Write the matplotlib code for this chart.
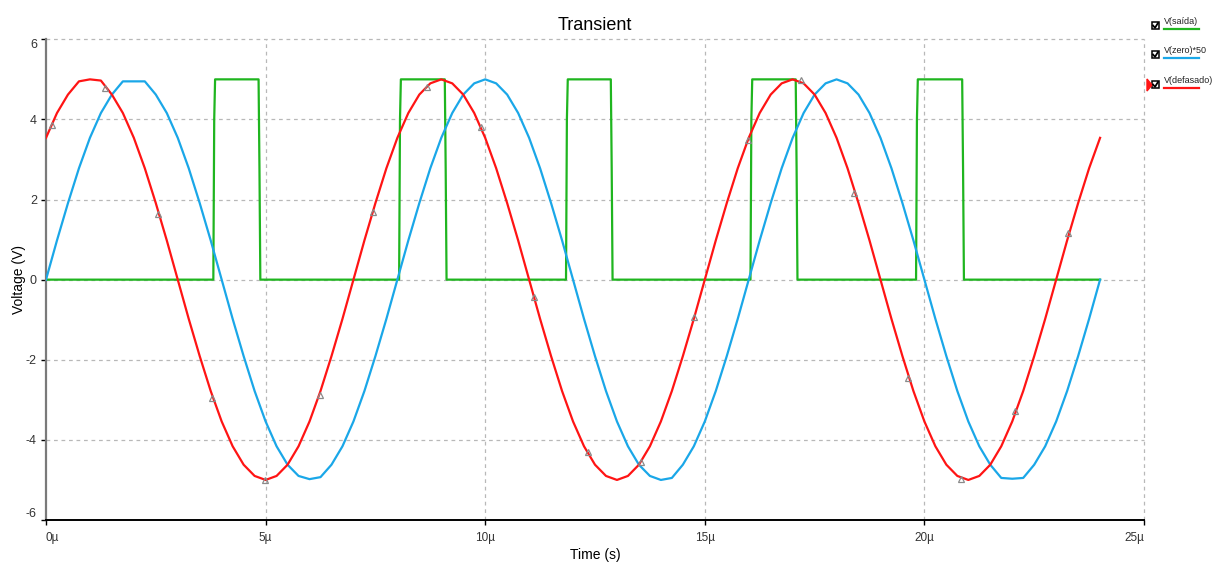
import numpy as np
import matplotlib
matplotlib.use("Agg")
import matplotlib.pyplot as plt
from matplotlib.lines import Line2D
from matplotlib.patches import Rectangle, Polygon

# ---------------- data (time in microseconds, values in volts) ----------------
time_us = np.arange(0, 24.001, 0.25)

v_zero_x50 = [
    0.00, 0.98, 1.91, 2.78, 3.54, 4.16, 4.62, 4.95, 4.95, 4.95, 4.62, 4.16, 3.54, 2.78, 1.91, 0.98,
    0.00, -0.98, -1.91, -2.78, -3.54, -4.16, -4.62, -4.90, -4.98, -4.93, -4.62, -4.16, -3.54, -2.78, -1.91, -0.98,
    0.00, 0.98, 1.91, 2.78, 3.54, 4.16, 4.62, 4.90, 5.00, 4.90, 4.62, 4.16, 3.54, 2.78, 1.91, 0.98,
    0.00, -0.98, -1.91, -2.78, -3.54, -4.16, -4.62, -4.90, -5.00, -4.95, -4.62, -4.16, -3.54, -2.78, -1.91, -0.98,
    0.00, 0.98, 1.91, 2.78, 3.54, 4.16, 4.62, 4.90, 5.00, 4.90, 4.62, 4.16, 3.54, 2.78, 1.91, 0.98,
    0.00, -0.98, -1.91, -2.78, -3.54, -4.16, -4.62, -4.95, -4.97, -4.95, -4.62, -4.16, -3.54, -2.78, -1.91, -0.98,
    0.00,
]

v_defasado = [
    3.54, 4.16, 4.62, 4.95, 5.00, 4.97, 4.62, 4.16, 3.54, 2.78, 1.91, 0.98, 0.00, -0.98, -1.91, -2.78,
    -3.54, -4.16, -4.62, -4.90, -5.00, -4.90, -4.62, -4.16, -3.54, -2.78, -1.91, -0.98, 0.00, 0.98, 1.91, 2.78,
    3.54, 4.16, 4.62, 4.90, 5.00, 4.90, 4.62, 4.16, 3.54, 2.78, 1.91, 0.98, 0.00, -0.98, -1.91, -2.78,
    -3.54, -4.16, -4.62, -4.90, -5.00, -4.90, -4.62, -4.16, -3.54, -2.78, -1.91, -0.98, 0.00, 0.98, 1.91, 2.78,
    3.54, 4.16, 4.62, 4.90, 5.00, 4.90, 4.62, 4.16, 3.54, 2.78, 1.91, 0.98, 0.00, -0.98, -1.91, -2.78,
    -3.54, -4.16, -4.62, -4.90, -5.00, -4.90, -4.62, -4.16, -3.54, -2.78, -1.91, -0.98, 0.00, 0.98, 1.91, 2.78,
    3.54,
]

# V(saida): square pulses, rising / falling edge times (us), high level (V)
saida_rise = [3.81, 8.04, 11.84, 16.04, 19.81]
saida_fall = [4.84, 9.08, 12.86, 17.07, 20.86]
saida_high = 5.0
saida_end = 24.0

# cursor markers on V(defasado)
marker_t = [0.14, 1.34, 2.55, 3.78, 4.99, 6.24, 7.45, 8.67, 9.90, 11.11,
            12.34, 13.55, 14.75, 15.98, 17.19, 18.40, 19.63, 20.83, 22.06, 23.27]
marker_v = [3.85, 4.78, 1.64, -2.95, -5.00, -2.88, 1.68, 4.80, 3.80, -0.44,
            -4.30, -4.55, -0.93, 3.48, 4.98, 2.16, -2.46, -4.97, -3.28, 1.16]

x_ticks = [0, 5, 10, 15, 20, 25]
x_tick_labels = ["0\u00b5", "5\u00b5", "10\u00b5", "15\u00b5", "20\u00b5", "25\u00b5"]
y_ticks = [-6, -4, -2, 0, 2, 4, 6]
y_tick_labels = ["-6", "-4", "-2", "0", "2", "4", "6"]

legend_labels = ["V(sa\u00edda)", "V(zero)*50", "V(defasado)"]

# ---------------- style ----------------
GREEN = "#1fb51f"
BLUE = "#1aa7e8"
RED = "#ff1414"
GRID = "#b8b8b8"

plt.rcParams["font.family"] = ["Liberation Sans", "DejaVu Sans"]

fig = plt.figure(figsize=(12.16, 5.62), dpi=100)
ax = fig.add_axes([46 / 1216, 42 / 562, (1144 - 46) / 1216, (520 - 39.3) / 562])

# build step polyline for V(saida)
g_t = [0.0]
g_v = [0.0]
for r, f in zip(saida_rise, saida_fall):
    g_t += [r, r + 0.02, r + 0.04, f, f + 0.02, f + 0.04]
    g_v += [0.0, 4.0, saida_high, saida_high, 2.8, 0.0]
g_t.append(saida_end)
g_v.append(0.0)

ax.plot(g_t, g_v, color=GREEN, lw=1.6, zorder=3)
ax.plot(time_us, v_zero_x50, color=BLUE, lw=1.6, zorder=4)
ax.plot(time_us, v_defasado, color=RED, lw=1.6, zorder=5)
ax.plot(marker_t, marker_v, linestyle="none", marker="^", markersize=4.5,
        markerfacecolor="none", markeredgecolor="#8a8a8a", markeredgewidth=0.9, zorder=6)

ax.set_xlim(0, 25)
ax.set_ylim(-6, 6)
ax.set_xticks(x_ticks)
ax.set_xticklabels(x_tick_labels, fontsize=8.5, color="#333333")
ax.set_yticks(y_ticks)
ax.set_yticklabels(y_tick_labels, fontsize=9, color="#333333")
ax.tick_params(axis="both", direction="out", length=3.5, width=1.0, color="black")
ax.tick_params(axis="x", pad=5)
ax.tick_params(axis="y", pad=3)

# edge labels kept inside the axis span, as in the reference
xl = ax.get_xticklabels()
xl[0].set_horizontalalignment("left")
xl[-1].set_horizontalalignment("right")
yl = ax.get_yticklabels()
yl[0].set_verticalalignment("bottom")
yl[-1].set_verticalalignment("top")

# dashed grid
for yv in y_ticks[1:]:
    ax.axhline(yv, color=GRID, lw=0.9, ls=(0, (3, 3)), zorder=1, clip_on=False)
for xv in x_ticks[1:]:
    ax.axvline(xv, color=GRID, lw=0.9, ls=(0, (3, 3)), zorder=1, clip_on=False)

for s in ["top", "right"]:
    ax.spines[s].set_visible(False)
ax.spines["left"].set_color("#7a7a7a")
ax.spines["left"].set_linewidth(1.6)
ax.spines["bottom"].set_color("black")
ax.spines["bottom"].set_linewidth(1.4)

ax.set_title("Transient", fontsize=13, pad=7)
ax.set_xlabel("Time (s)", fontsize=10, labelpad=3)
ax.set_ylabel("Voltage (V)", fontsize=10, labelpad=0)

# ---------------- legend (checkbox style, right side) ----------------
W, H = 1216.0, 562.0
def fx(px):
    return px / W
def fy(py):
    return 1 - py / H

colors = [GREEN, BLUE, RED]
box_y = [22, 51, 81]
for lab, col, by in zip(legend_labels, colors, box_y):
    fig.patches.append(Rectangle((fx(1151.5), fy(by + 7)), 7 / W, 7 / H, transform=fig.transFigure,
                                 facecolor="white", edgecolor="black", lw=1.1))
    fig.lines.append(Line2D([fx(1153), fx(1155), fx(1158)], [fy(by + 3.5), fy(by + 5.8), fy(by + 1)],
                            transform=fig.transFigure, color="black", lw=1.3))
    fig.text(fx(1164), fy(by + 4), lab, fontsize=6.5, color="#222222", ha="left", va="bottom")
    fig.lines.append(Line2D([fx(1164), fx(1199)], [fy(by + 7), fy(by + 7)],
                            transform=fig.transFigure, color=col, lw=1.6))

fig.patches.append(Polygon([[fx(1147), fy(79)], [fx(1152), fy(85)], [fx(1147), fy(91)]],
                           closed=True, transform=fig.transFigure, facecolor=RED, edgecolor=RED))

fig.savefig("out.png", dpi=100)
